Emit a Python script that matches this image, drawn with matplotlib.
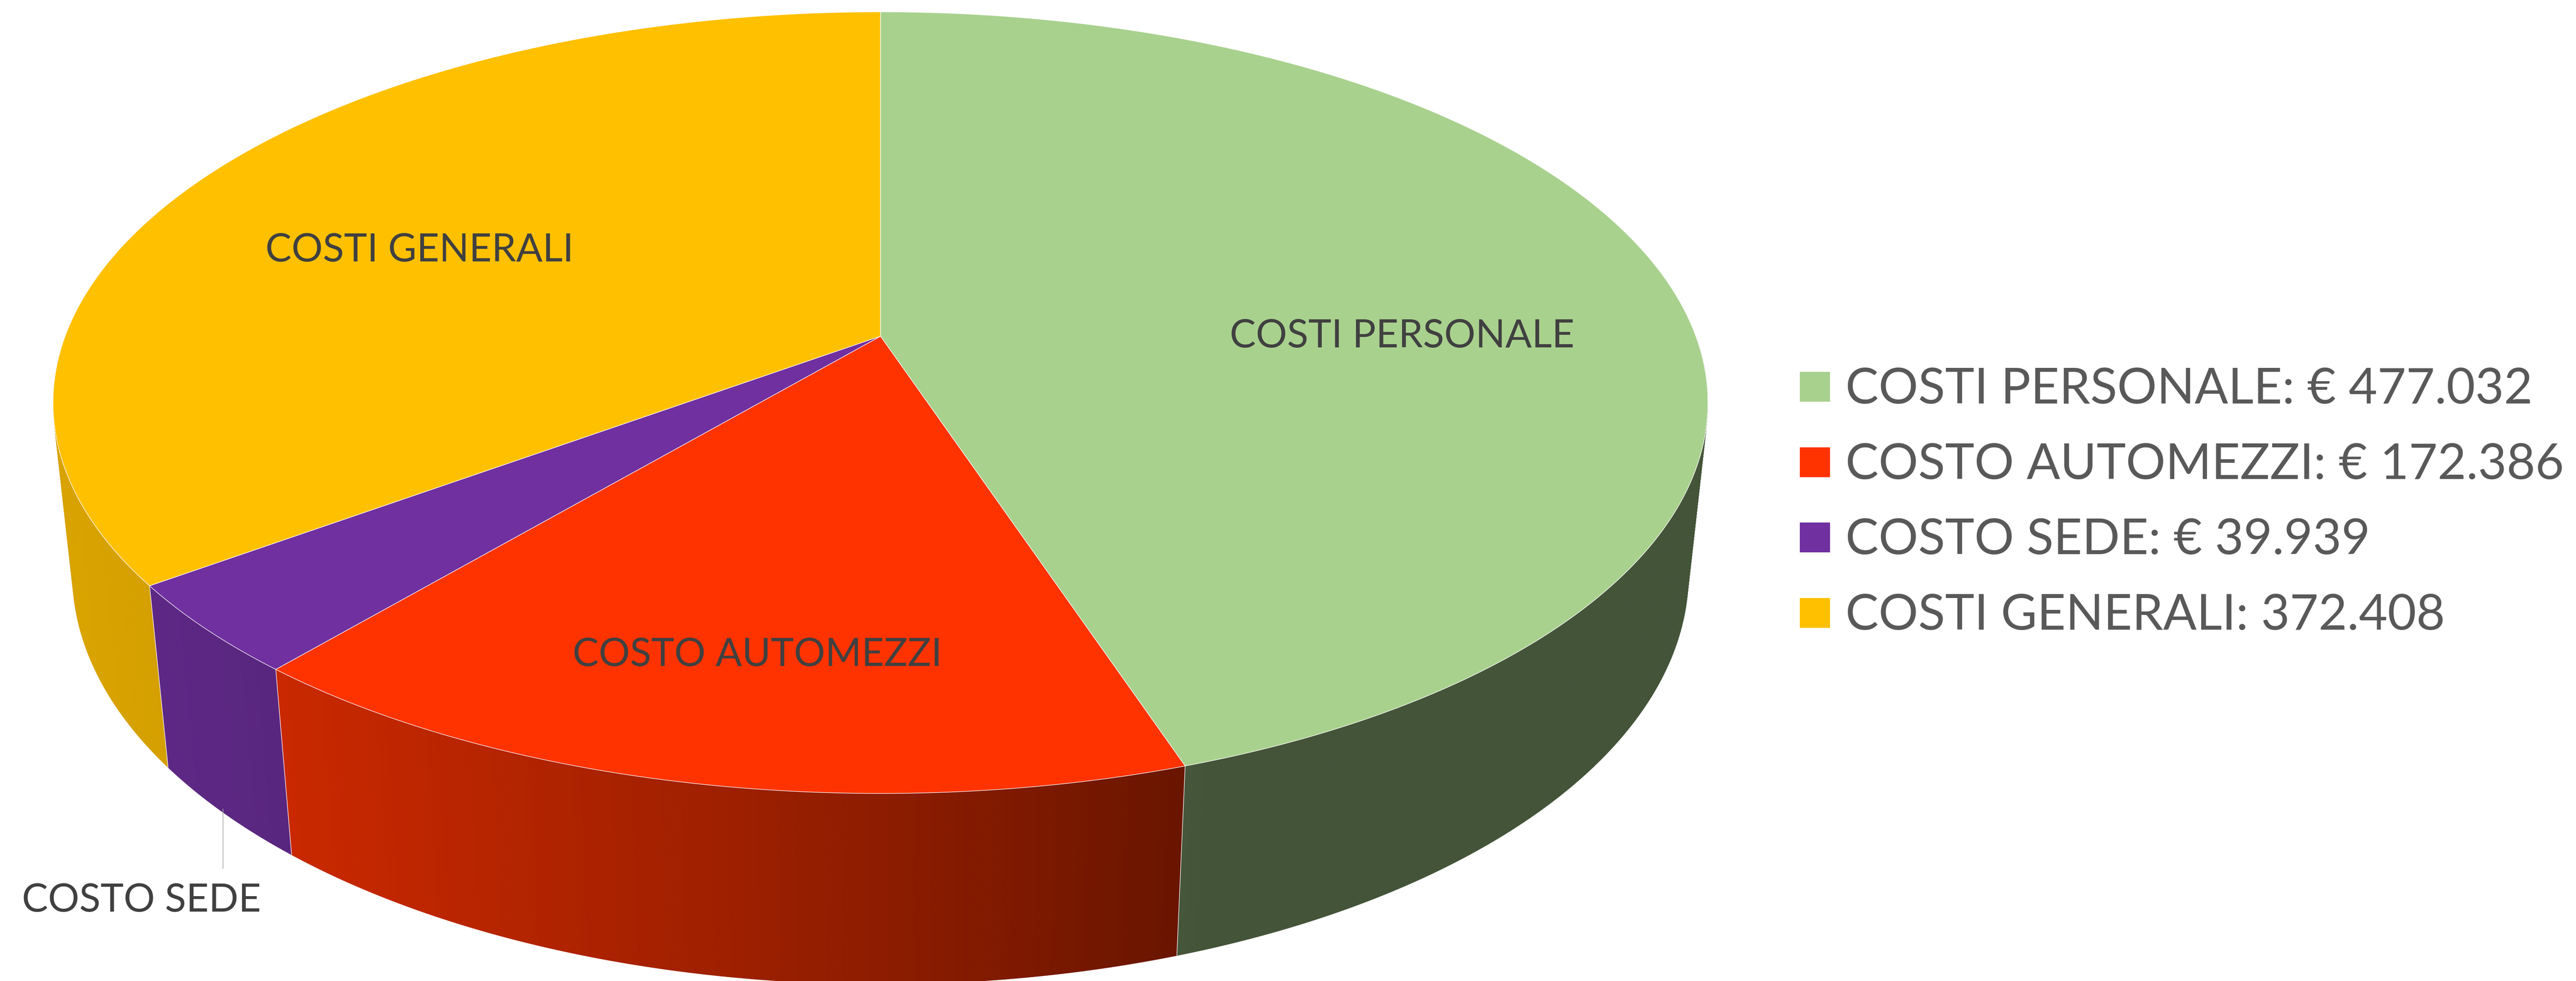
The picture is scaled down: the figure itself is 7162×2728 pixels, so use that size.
import numpy as np
import matplotlib
matplotlib.use("Agg")
import matplotlib.pyplot as plt
from matplotlib.collections import PolyCollection
from matplotlib.patches import Polygon, Rectangle
from matplotlib.textpath import TextPath
from matplotlib.font_manager import FontProperties, fontManager

# ---------------- data ----------------
categories = ["COSTI PERSONALE", "COSTO AUTOMEZZI", "COSTO SEDE", "COSTI GENERALI"]
values = [477032, 172386, 39939, 372408]
legend_labels = ["COSTI PERSONALE: € 477.032",
                 "COSTO AUTOMEZZI: € 172.386",
                 "COSTO SEDE: € 39.939",
                 "COSTI GENERALI: 372.408"]
slice_colors = ["#A9D18E", "#FF3300", "#7030A0", "#FFC000"]

# ---------------- style / layout ----------------
W, H = 7162, 2728
available = {f.name for f in fontManager.ttflist}
FAMILY = "Lato" if "Lato" in available else "DejaVu Sans"
LABEL_COLOR = "#404040"
LEGEND_COLOR = "#595959"

# perspective model of the 3D pie (pixel space)
CX, CY = 2448.0, 935.0
A, B, K = 2267.0, 1055.3, 0.170
M, D = 0.0234, 482.4


def proj(theta, r=1.0, depth=0.0):
    t = np.radians(theta)
    u = r * np.sin(t)
    v = r * np.cos(t)
    w = 1 + K * v + M * depth
    return CX + A * u / w, CY + (-B * v + D * depth) / w


def shade(theta):
    return 0.40 + 0.45 * max(0.0, np.cos(np.radians(theta - 250.0)))


def darken(color, f):
    rgb = np.array(matplotlib.colors.to_rgb(color))
    return tuple(np.clip(rgb * f, 0, 1))


fig = plt.figure(figsize=(W / 100, H / 100), dpi=100)
ax = fig.add_axes([0, 0, 1, 1])
ax.set_xlim(0, W)
ax.set_ylim(H, 0)
ax.axis("off")

fracs = np.array(values, dtype=float) / np.sum(values)
bounds = np.concatenate([[0.0], np.cumsum(fracs) * 360.0])

# ---------------- side wall ----------------
ts = np.arange(90.0, 270.0 + 1e-9, 0.25)
ts = np.unique(np.concatenate([ts, [b for b in bounds if 90 < b < 270]]))
quads, fcols, keys = [], [], []
for t0, t1 in zip(ts[:-1], ts[1:]):
    mid = 0.5 * (t0 + t1)
    idx = int(np.searchsorted(bounds, mid) - 1)
    x0t, y0t = proj(t0, 1, 0)
    x1t, y1t = proj(t1, 1, 0)
    x1b, y1b = proj(t1, 1, 1)
    x0b, y0b = proj(t0, 1, 1)
    quads.append([(x0t, y0t), (x1t, y1t), (x1b, y1b), (x0b, y0b)])
    fcols.append(darken(slice_colors[idx], shade(mid)))
    keys.append(np.cos(np.radians(mid)))
order = np.argsort(keys)[::-1]
pc = PolyCollection([quads[i] for i in order],
                    facecolors=[fcols[i] for i in order],
                    edgecolors=[fcols[i] for i in order],
                    linewidths=0.8, zorder=1)
ax.add_collection(pc)

# white junction lines on the wall
for b in bounds[1:-1]:
    if 90 < b < 270:
        xt, yt = proj(b, 1, 0)
        xb, yb = proj(b, 1, 1)
        ax.plot([xt, xb], [yt, yb], color="white", lw=1.1, zorder=2,
                solid_capstyle="butt")

# ---------------- top face ----------------
for i, col in enumerate(slice_colors):
    arc = np.linspace(bounds[i], bounds[i + 1], max(3, int((bounds[i + 1] - bounds[i]) * 4)))
    xs, ys = proj(arc, 1, 0)
    pts = [(CX, CY)] + list(zip(xs, ys))
    ax.add_patch(Polygon(pts, closed=True, fc=col, ec="white", lw=1.1,
                         joinstyle="round", zorder=3))

# ---------------- text helpers ----------------
renderer = fig.canvas.get_renderer()
cap_ratio = TextPath((0, 0), "H", size=1, prop=FontProperties(family=FAMILY)).get_extents().height


def fit_size(strings, targets):
    widths = []
    for s in strings:
        t = ax.text(0, 0, s, fontsize=100, family=FAMILY)
        widths.append(t.get_window_extent(renderer).width)
        t.remove()
    return 100.0 * np.sum(targets) / np.sum(widths)


def cap_text(x, yc, s, fs, color, ha):
    cap_px = cap_ratio * fs * 100 / 72
    ax.text(x, yc + cap_px / 2, s, fontsize=fs, family=FAMILY, color=color,
            ha=ha, va="baseline", zorder=6)


# slice labels
label_pos = [(3898, 927), (2106, 1813), (393, 2496), (1166, 688)]
label_widths = [945, 996, 633, 845]
fs_lab = fit_size(categories, label_widths) * 1.025
for s, (x, y) in zip(categories, label_pos):
    cap_text(x, y, s, fs_lab, LABEL_COLOR, "center")

# leader line for small slice
ax.plot([620, 620], [2250, 2415], color="#A6A6A6", lw=1.4, zorder=5)

# legend
leg_y = [1075, 1285, 1494, 1704]
leg_widths = [1897, 1973, 1192, 1667]
fs_leg = fit_size(legend_labels, leg_widths) * 1.045
for s, col, y in zip(legend_labels, slice_colors, leg_y):
    ax.add_patch(Rectangle((5004, y - 41.5), 84, 83, fc=col, ec="none", zorder=5))
    cap_text(5131, y - 2, s, fs_leg, LEGEND_COLOR, "left")

fig.savefig("out.png", dpi=100, facecolor="white")
